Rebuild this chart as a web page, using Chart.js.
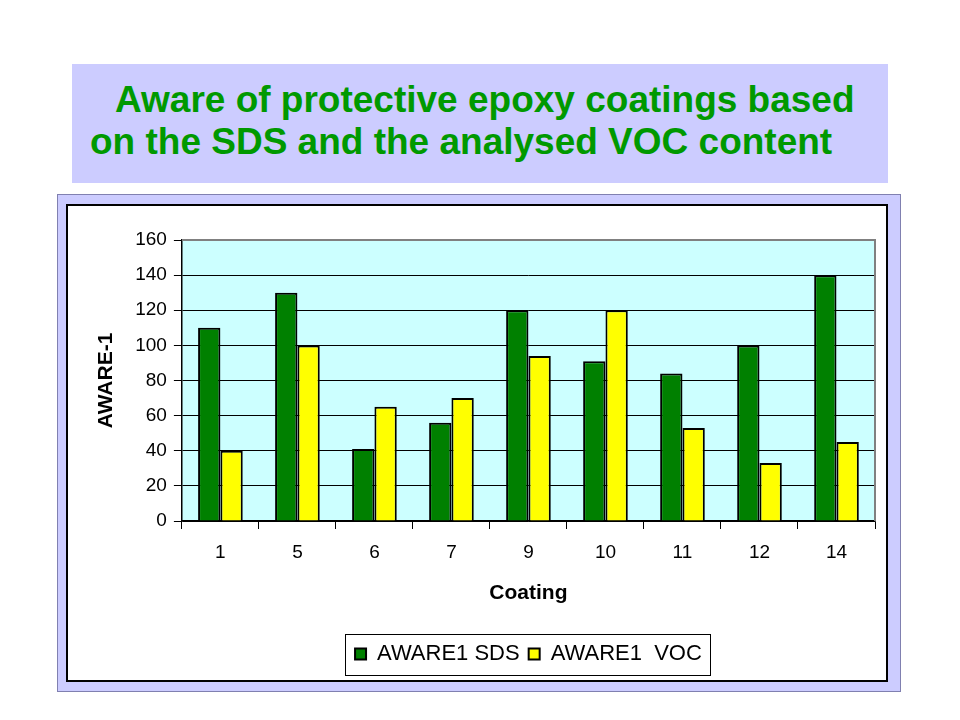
<!DOCTYPE html>
<html>
<head>
<meta charset="utf-8">
<script src="https://cdn.jsdelivr.net/npm/chart.js@4/dist/chart.umd.min.js"></script>
<style>
  body { margin: 0; background: #fff; width: 960px; height: 720px; position: relative; overflow: hidden; font-family: "Liberation Sans", Arial, sans-serif; }
  #title { position: absolute; left: 72px; top: 64px; width: 816px; height: 119px; background: #ccccff; }
  #title div { position: absolute; color: #009900; font-weight: bold; font-size: 37px; line-height: 42px; white-space: nowrap; }
  #frame { position: absolute; left: 57px; top: 194px; width: 842px; height: 496px; background: #ccccff; border: 1px solid #8080b0; }
  #inner { position: absolute; left: 66px; top: 204px; width: 818px; height: 474px; background: #fff; border: 2px solid #000; }
</style>
</head>
<body>
<div id="title">
  <div style="left:43px;top:15px">Aware of protective epoxy coatings based</div>
  <div style="left:18px;top:57px">on the SDS and the analysed VOC content</div>
</div>
<div id="frame"></div>
<div id="inner"><canvas id="chart" width="818" height="474"></canvas></div>
<script>
// Coatings and measured values
const coatings = ["1", "5", "6", "7", "9", "10", "11", "12", "14"];
const sdsValues = [110, 130, 41, 56, 120, 91, 84, 100, 140];
const vocValues = [40, 100, 65, 70, 94, 120, 53, 33, 45];
const seriesNames = ["AWARE1 SDS", "AWARE1  VOC"];

// plot background, top/right border and legend frame
const decor = {
  id: "decor",
  beforeDraw(chart) {
    const a = chart.chartArea, ctx = chart.ctx;
    ctx.save();
    ctx.fillStyle = "#ccffff";
    ctx.fillRect(a.left, a.top, a.right - a.left, a.bottom - a.top);
    ctx.restore();
  },
  afterDraw(chart) {
    const a = chart.chartArea, ctx = chart.ctx, lg = chart.legend;
    ctx.save();
    ctx.strokeStyle = "#808080";
    ctx.lineWidth = 2;
    ctx.beginPath();
    ctx.moveTo(a.left, a.top);
    ctx.lineTo(a.right, a.top);
    ctx.lineTo(a.right, a.bottom);
    ctx.stroke();
    // border only around the legend items
    const hb = lg.legendHitBoxes;
    const l = Math.min(...hb.map(b => b.left)) - 10;
    const r = Math.max(...hb.map(b => b.left + b.width)) + 8;
    ctx.strokeStyle = "#000";
    ctx.lineWidth = 1;
    ctx.strokeRect(Math.round(l) + 0.5, Math.round(lg.top) + 0.5, Math.round(r - l), Math.round(lg.height));
    ctx.restore();
  }
};

new Chart(document.getElementById("chart"), {
  type: "bar",
  data: {
    labels: coatings,
    datasets: [
      { label: seriesNames[0], data: sdsValues, backgroundColor: "#008000", borderColor: "#000", borderWidth: 2 },
      { label: seriesNames[1], data: vocValues, backgroundColor: "#ffff00", borderColor: "#000", borderWidth: 2 }
    ]
  },
  options: {
    responsive: false,
    animation: false,
    categoryPercentage: 0.58,
    barPercentage: 1,
    layout: { padding: { left: 26, right: 11, top: 34, bottom: 5 } },
    scales: {
      x: {
        grid: { drawOnChartArea: false, color: "#000", tickLength: 8 },
        border: { color: "#000", width: 1.5 },
        ticks: { color: "#000", font: { family: "Liberation Sans", size: 19 }, padding: 12 },
        title: { display: true, text: "Coating", color: "#000", font: { family: "Liberation Sans", size: 21, weight: "bold" }, padding: { top: 5, bottom: 28 } }
      },
      y: {
        min: 0, max: 160,
        ticks: { stepSize: 20, color: "#000", font: { family: "Liberation Sans", size: 19 }, padding: 7 },
        grid: { color: "#000", tickLength: 8 },
        border: { color: "#000", width: 1.5 },
        title: { display: true, text: "AWARE-1", color: "#000", font: { family: "Liberation Sans", size: 21, weight: "bold" }, padding: { top: 0, bottom: 9 } }
      }
    },
    plugins: {
      legend: {
        position: "bottom",
        fullSize: false,
        labels: { color: "#000", font: { family: "Liberation Sans", size: 22 }, boxWidth: 11, boxHeight: 11, padding: 9, useBorderRadius: false }
      },
      tooltip: { enabled: false }
    }
  },
  plugins: [decor]
});
</script>
</body>
</html>
